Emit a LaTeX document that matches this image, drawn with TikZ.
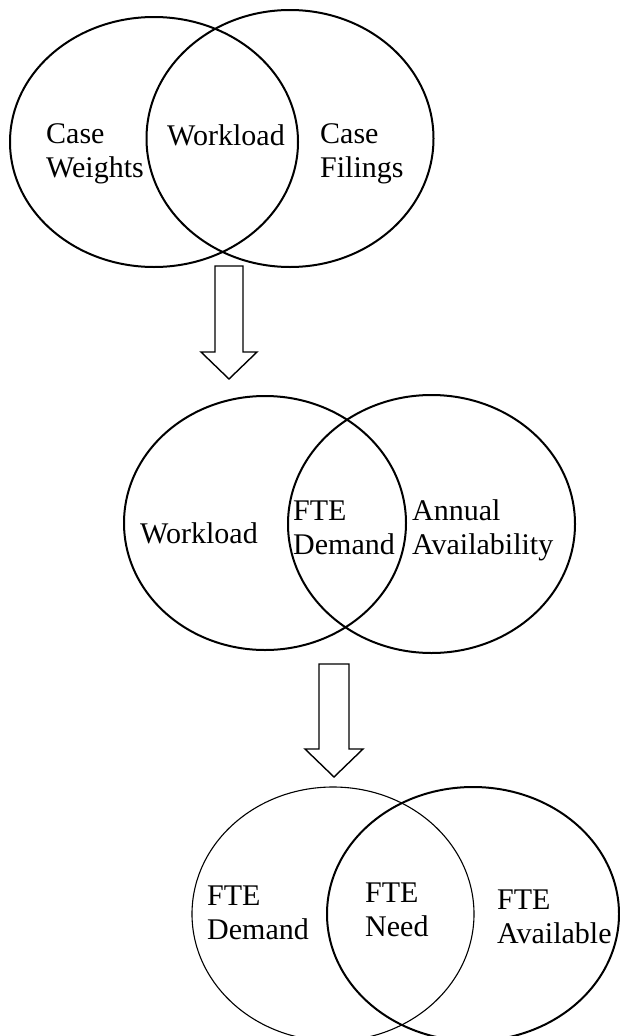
\documentclass[tikz,border=0pt]{standalone}
\usepackage{fontspec}
\setmainfont{Liberation Serif}
\usetikzlibrary{shapes.geometric,calc}
\begin{document}
\begin{tikzpicture}[x=1pt,y=-1pt,
  venn/.style={draw, ellipse, line width=2pt, inner sep=0pt},
  thinvenn/.style={venn, line width=1.1pt},
  lbl/.style={font=\fontsize{30}{34.5}\selectfont, inner sep=0pt, align=left, anchor=base west},
  blockarrow/.style={draw, line width=1.4pt, line join=miter}]
\useasboundingbox (0,0) rectangle (620,1036);
\clip (0,0) rectangle (620,1036);
% top pair
\node[venn, minimum width=288pt, minimum height=250pt] (cw) at (154,142) {};
\node[venn, minimum width=287pt, minimum height=257pt] (cf) at (290,138.5) {};
\node[lbl] (tcw) at (46,177.5) {Case\\Weights};
\node[lbl] (twl) at (167,145) {Workload};
\node[lbl] (tcf) at (320,177.5) {Case\\Filings};
% arrow 1
\coordinate (a1) at (229,266);
\draw[blockarrow] ($(a1)+(-14,0)$) -- ($(a1)+(14,0)$) -- ($(a1)+(14,86)$) -- ($(a1)+(28,86)$)
  -- ($(a1)+(0,113)$) -- ($(a1)+(-28,86)$) -- ($(a1)+(-14,86)$) -- cycle;
% middle pair
\node[venn, minimum width=282pt, minimum height=254pt] (wl) at (265,523) {};
\node[venn, minimum width=287pt, minimum height=258pt] (aa) at (431.5,524) {};
\node[lbl] (twl2) at (140,543) {Workload};
\node[lbl] (tfd) at (293,554.5) {FTE\\Demand};
\node[lbl] (taa) at (412,554.5) {Annual\\Availability};
% arrow 2
\coordinate (a2) at (334,664);
\draw[blockarrow] ($(a2)+(-15,0)$) -- ($(a2)+(15,0)$) -- ($(a2)+(15,85)$) -- ($(a2)+(29,85)$)
  -- ($(a2)+(0,113)$) -- ($(a2)+(-29,85)$) -- ($(a2)+(-15,85)$) -- cycle;
% bottom pair
\node[thinvenn, minimum width=282pt, minimum height=254pt] (fd) at (333,914) {};
\node[venn, minimum width=292pt, minimum height=254pt] (fa) at (473,914) {};
\node[lbl] (tfd2) at (207,939.5) {FTE\\Demand};
\node[lbl] (tfn) at (365,936.5) {FTE\\Need};
\node[lbl] (tfa) at (497,943.5) {FTE\\Available};
\end{tikzpicture}
\end{document}
